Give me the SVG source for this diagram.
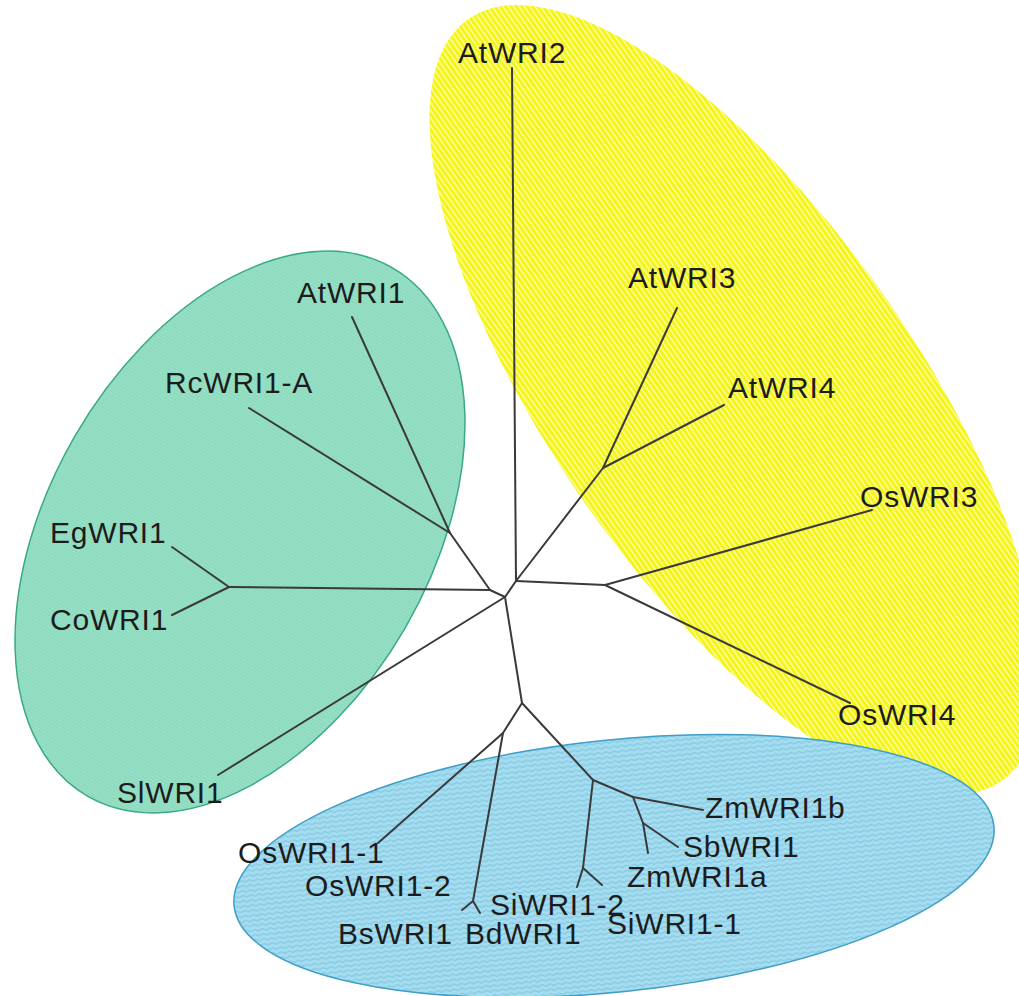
<svg xmlns="http://www.w3.org/2000/svg" width="1019" height="996" viewBox="0 0 1019 996">
<defs>
<pattern id="pYellow" width="8" height="4.4" patternUnits="userSpaceOnUse">
<rect width="8" height="4.4" fill="#f4f416"/>
<rect y="3.1" width="8" height="1.3" fill="#fcfcb4"/>
</pattern>
<pattern id="pGreen" width="3" height="8" patternUnits="userSpaceOnUse">
<rect width="3" height="8" fill="#95e0c5"/>
<rect width="1" height="8" fill="#8cd8bc"/>
</pattern>
<pattern id="pBlue" width="8" height="5" patternUnits="userSpaceOnUse">
<rect width="8" height="5" fill="#a6dcef"/>
<path d="M0 2.5 Q2 0.6 4 2.5 T8 2.5" fill="none" stroke="#73c3df" stroke-width="1"/>
</pattern>
</defs>
<style>
.lbl{font-family:"Liberation Sans",Arial,sans-serif;font-size:30px;fill:#1c1c1c;letter-spacing:0.8px}
.br{stroke:#3a3a3a;stroke-width:2;fill:none;stroke-linecap:round}
</style>
<rect width="1019" height="996" fill="#ffffff"/>
<g id="clusters">
<ellipse id="cluster-yellow" cx="735" cy="400" rx="465" ry="182" transform="rotate(55 735 400)" fill="url(#pYellow)"/>
<ellipse id="cluster-green" cx="240" cy="532" rx="305" ry="191" transform="rotate(-60 240 532)" fill="url(#pGreen)" stroke="#3aa985" stroke-width="1.5"/>
<ellipse id="cluster-blue" cx="614" cy="866" rx="382" ry="126" transform="rotate(-6 614 866)" fill="url(#pBlue)" stroke="#3f9ec6" stroke-width="1.5"/>
</g>
<g id="connectors" class="br">
<line x1="505" y1="597" x2="490" y2="590"/>
<line x1="490" y1="590" x2="229" y2="587"/>
<line x1="229" y1="587" x2="172" y2="547"/>
<line x1="229" y1="587" x2="172" y2="615"/>
<line x1="490" y1="590" x2="450" y2="533"/>
<line x1="450" y1="533" x2="352" y2="317"/>
<line x1="450" y1="533" x2="249" y2="408"/>
<line x1="505" y1="597" x2="218" y2="775"/>
<line x1="505" y1="597" x2="516" y2="581"/>
<line x1="516" y1="581" x2="512" y2="68"/>
<line x1="516" y1="581" x2="603" y2="468"/>
<line x1="603" y1="468" x2="677" y2="308"/>
<line x1="603" y1="468" x2="724" y2="405"/>
<line x1="516" y1="581" x2="605" y2="585"/>
<line x1="605" y1="585" x2="872" y2="510"/>
<line x1="605" y1="585" x2="850" y2="703"/>
<line x1="505" y1="597" x2="522" y2="703"/>
<line x1="522" y1="703" x2="503" y2="733"/>
<line x1="503" y1="733" x2="378" y2="843"/>
<line x1="503" y1="733" x2="473" y2="901"/>
<line x1="473" y1="901" x2="462" y2="910"/>
<line x1="473" y1="901" x2="480" y2="913"/>
<line x1="522" y1="703" x2="593" y2="780"/>
<line x1="593" y1="780" x2="583" y2="868"/>
<line x1="583" y1="868" x2="577" y2="887"/>
<line x1="583" y1="868" x2="602" y2="885"/>
<line x1="593" y1="780" x2="633" y2="797"/>
<line x1="633" y1="797" x2="703" y2="810"/>
<line x1="633" y1="797" x2="643" y2="823"/>
<line x1="643" y1="823" x2="648" y2="853"/>
<line x1="643" y1="823" x2="678" y2="847"/>
</g>
<g id="n-AtWRI2"><text class="lbl" x="458" y="63">AtWRI2</text></g>
<g id="n-AtWRI1"><text class="lbl" x="297" y="303">AtWRI1</text></g>
<g id="n-RcWRI1-A"><text class="lbl" x="165" y="393">RcWRI1-A</text></g>
<g id="n-AtWRI3"><text class="lbl" x="628" y="288">AtWRI3</text></g>
<g id="n-AtWRI4"><text class="lbl" x="728" y="398">AtWRI4</text></g>
<g id="n-OsWRI3"><text class="lbl" x="860" y="507">OsWRI3</text></g>
<g id="n-EgWRI1"><text class="lbl" x="50" y="543">EgWRI1</text></g>
<g id="n-CoWRI1"><text class="lbl" x="50" y="630">CoWRI1</text></g>
<g id="n-OsWRI4"><text class="lbl" x="838" y="725">OsWRI4</text></g>
<g id="n-SlWRI1"><text class="lbl" x="117" y="803">SlWRI1</text></g>
<g id="n-ZmWRI1b"><text class="lbl" x="705" y="818">ZmWRI1b</text></g>
<g id="n-SbWRI1"><text class="lbl" x="683" y="857">SbWRI1</text></g>
<g id="n-OsWRI1-1"><text class="lbl" x="238" y="863">OsWRI1-1</text></g>
<g id="n-ZmWRI1a"><text class="lbl" x="627" y="887">ZmWRI1a</text></g>
<g id="n-OsWRI1-2"><text class="lbl" x="305" y="896">OsWRI1-2</text></g>
<g id="n-SiWRI1-2"><text class="lbl" x="490" y="915">SiWRI1-2</text></g>
<g id="n-SiWRI1-1"><text class="lbl" x="607" y="934">SiWRI1-1</text></g>
<g id="n-BsWRI1"><text class="lbl" x="338" y="944">BsWRI1</text></g>
<g id="n-BdWRI1"><text class="lbl" x="465" y="944">BdWRI1</text></g>
</svg>
